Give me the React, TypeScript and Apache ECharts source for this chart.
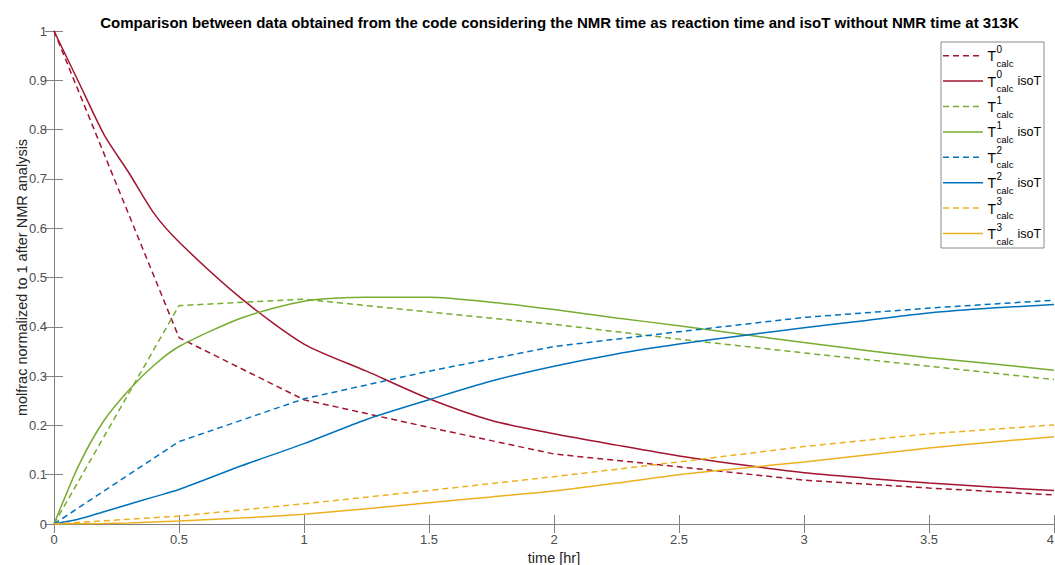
import React, { useEffect, useRef } from "react";
import * as echarts from "echarts";

const timesCalc = [0, 0.5, 1, 1.5, 2, 2.5, 3, 3.5, 4];
const t0calc = [1, 0.378, 0.252, 0.196, 0.142, 0.116, 0.089, 0.073, 0.059];
const t1calc = [0, 0.443, 0.456, 0.43, 0.405, 0.375, 0.347, 0.32, 0.293];
const t2calc = [0, 0.167, 0.254, 0.31, 0.36, 0.39, 0.419, 0.438, 0.454];
const t3calc = [0, 0.016, 0.041, 0.068, 0.096, 0.126, 0.157, 0.183, 0.201];

const timesIso = [0, 0.1, 0.2, 0.3, 0.4, 0.5, 0.75, 1, 1.25, 1.5, 1.75, 2, 2.25, 2.5, 2.75, 3, 3.25, 3.5, 3.75, 4];
const t0iso = [1, 0.895, 0.79, 0.712, 0.63, 0.572, 0.457, 0.365, 0.31, 0.254, 0.21, 0.183, 0.16, 0.138, 0.12, 0.104, 0.093, 0.083, 0.075, 0.068];
const t1iso = [0, 0.12, 0.21, 0.272, 0.322, 0.36, 0.418, 0.452, 0.46, 0.46, 0.45, 0.435, 0.418, 0.402, 0.385, 0.368, 0.352, 0.337, 0.325, 0.312];
const t2iso = [0, 0.01, 0.025, 0.04, 0.055, 0.07, 0.118, 0.163, 0.212, 0.252, 0.29, 0.32, 0.345, 0.365, 0.382, 0.398, 0.413, 0.428, 0.438, 0.445];
const t3iso = [0, 0.0005, 0.001, 0.002, 0.004, 0.006, 0.012, 0.02, 0.031, 0.043, 0.055, 0.067, 0.083, 0.1, 0.113, 0.126, 0.14, 0.154, 0.166, 0.177];

const seriesNames = ["T0calc", "T0calc isoT", "T1calc", "T1calc isoT", "T2calc", "T2calc isoT", "T3calc", "T3calc isoT"];
const supLabels = ["0", "0", "1", "1", "2", "2", "3", "3"];
const colors = ["#A2142F", "#A2142F", "#77AC30", "#77AC30", "#0072BD", "#0072BD", "#EDB120", "#EDB120"];

const FONT = "'Liberation Sans', Arial, Helvetica, sans-serif";
const AXIS_COLOR = "#808080";
const LABEL_COLOR = "#4d4d4d";

export default function App() {
  const ref = useRef<HTMLDivElement>(null);
  useEffect(() => {
    if (!ref.current) return;
    const chart = echarts.init(ref.current, undefined, { renderer: "svg" });
    const dataSets = [
      [timesCalc, t0calc], [timesIso, t0iso],
      [timesCalc, t1calc], [timesIso, t1iso],
      [timesCalc, t2calc], [timesIso, t2iso],
      [timesCalc, t3calc], [timesIso, t3iso],
    ];
    const series = dataSets.map(([xs, ys], i) => {
      const dashed = i % 2 === 0;
      return {
        name: seriesNames[i],
        type: "line",
        data: (xs as number[]).map((t, k) => [t, (ys as number[])[k]]),
        showSymbol: false,
        symbol: "none",
        smooth: dashed ? false : 0.25,
        itemStyle: { color: colors[i] },
        lineStyle: { color: colors[i], width: 1.5, type: dashed ? [6, 4] : "solid" },
        z: 2,
      };
    });

    const legendEls: any[] = [
      {
        type: "rect",
        z: 100,
        shape: { x: 941, y: 42, width: 103, height: 206 },
        style: { fill: "#ffffff", stroke: "#8a8a8a", lineWidth: 1 },
      },
    ];
    for (let i = 0; i < 8; i++) {
      const y = 55.7 + i * 25.4;
      const dashed = i % 2 === 0;
      legendEls.push({
        type: "line",
        z: 101,
        shape: { x1: 943, y1: y, x2: 983, y2: y },
        style: { stroke: colors[i], lineWidth: 1.5, lineDash: dashed ? [6, 4] : null },
      });
      legendEls.push({
        type: "text", z: 101, x: 987.5, y: y + 0.5,
        style: { text: "T", fontSize: 14, fontFamily: FONT, fill: "#000", verticalAlign: "middle", align: "left" },
      });
      legendEls.push({
        type: "text", z: 101, x: 996.5, y: y - 6.5,
        style: { text: supLabels[i], fontSize: 10, fontFamily: FONT, fill: "#000", verticalAlign: "middle", align: "left" },
      });
      legendEls.push({
        type: "text", z: 101, x: 996.5, y: y + 7.5,
        style: { text: "calc", fontSize: 9.5, fontFamily: FONT, fill: "#000", verticalAlign: "middle", align: "left" },
      });
      if (!dashed) {
        legendEls.push({
          type: "text", z: 101, x: 1017.5, y: y,
          style: { text: "isoT", fontSize: 12.5, fontFamily: FONT, fill: "#000", verticalAlign: "middle", align: "left" },
        });
      }
    }

    const axisCommon = {
      axisLine: { show: true, lineStyle: { color: AXIS_COLOR, width: 1 } },
      axisTick: { show: true, inside: true, length: 9, lineStyle: { color: AXIS_COLOR, width: 1 } },
      splitLine: { show: false },
    };

    chart.setOption({
      animation: false,
      backgroundColor: "#ffffff",
      textStyle: { fontFamily: FONT },
      title: {
        text: "Comparison between data obtained from the code considering the NMR time as reaction time and isoT without NMR time at 313K",
        left: 554.5,
        textAlign: "center",
        top: 10,
        textStyle: { fontSize: 15, fontWeight: "bold", color: "#000", fontFamily: FONT },
      },
      grid: { left: 54, right: 1, top: 31, bottom: 41, containLabel: false, outerBoundsMode: "none" },
      xAxis: [
        {
          type: "value", min: 0, max: 4, interval: 0.5, position: "bottom",
          ...axisCommon,
          axisLabel: { color: LABEL_COLOR, fontSize: 13, margin: 9, fontFamily: FONT, alignMaxLabel: "right" },
          name: "time [hr]", nameLocation: "middle", nameGap: 26, nameMoveOverlap: false,
          nameTextStyle: { fontSize: 14.5, color: "#262626", fontFamily: FONT },
        },
        {
          type: "value", min: 0, max: 4, interval: 0.5, position: "top",
          ...axisCommon,
          axisLabel: { show: false },
        },
      ],
      yAxis: [
        {
          type: "value", min: 0, max: 1, interval: 0.1, position: "left",
          ...axisCommon,
          axisLabel: { color: LABEL_COLOR, fontSize: 13, margin: 7, fontFamily: FONT },
          name: "molfrac normalized to 1 after NMR analysis", nameLocation: "middle", nameGap: 25, nameMoveOverlap: false,
          nameTextStyle: { fontSize: 14.5, color: "#262626", fontFamily: FONT },
        },
        {
          type: "value", min: 0, max: 1, interval: 0.1, position: "right",
          ...axisCommon,
          axisLabel: { show: false },
        },
      ],
      series,
      graphic: legendEls,
    });
    return () => chart.dispose();
  }, []);
  return (
    <div
      ref={ref}
      style={{ position: "absolute", left: 0, top: 0, width: 1055, height: 565 }}
    />
  );
}
